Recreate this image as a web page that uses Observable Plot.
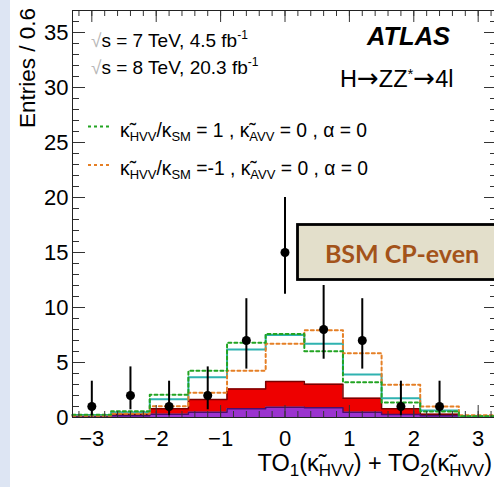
<!DOCTYPE html>
<html><head><meta charset="utf-8">
<script src="https://cdn.jsdelivr.net/npm/d3@7"></script>
<script src="https://cdn.jsdelivr.net/npm/@observablehq/plot@0.6"></script>
<style>
html,body{margin:0;padding:0;background:#fff;overflow:hidden;}
#wrap{position:relative;width:494px;height:487px;overflow:hidden;}
</style></head><body><div id="wrap"></div>
<script>
// ---- data ----
const binEdges   = [-3.3, -2.7, -2.1, -1.5, -0.9, -0.3, 0.3, 0.9, 1.5, 2.1, 2.7, 3.3];
const purpleBkg  = [0.10, 0.15, 0.30, 0.48, 0.80, 0.94, 0.88, 0.48, 0.27, 0.15, 0.05];
const redTop     = [0.20, 0.30, 0.80, 1.64, 2.58, 3.27, 3.03, 1.76, 0.80, 0.30, 0.10];
const smTotal    = [0.22, 0.48, 1.67, 3.67, 6.18, 7.50, 6.70, 3.90, 1.76, 0.64, 0.14];
const bsmPlus    = [0.24, 0.57, 2.06, 4.25, 6.80, 7.60, 6.03, 3.20, 1.36, 0.55, 0.12];
const bsmMinus   = [0.15, 0.35, 1.03, 2.25, 4.25, 6.70, 7.94, 5.85, 2.97, 1.00, 0.20];
const dataX      = [-3.0, -2.4, -1.8, -1.2, -0.6, 0.0, 0.6, 1.2, 1.8, 2.4];
const dataY      = [1, 2, 1, 2, 7, 15, 8, 7, 1, 1];
const dataLo     = [0.17, 0.7, 0.17, 0.7, 4.4, 11.2, 5.3, 4.4, 0.17, 0.17];
const dataHi     = [3.3, 4.6, 3.3, 4.6, 10.8, 20.0, 12.0, 10.8, 3.3, 3.3];
const xTickVals  = [-3, -2, -1, 0, 1, 2, 3];
const yTickVals  = [0, 5, 10, 15, 20, 25, 30, 35];
const xDomain    = [-3.3, 3.3];
const yDomain    = [0, 37];

const FONT = "'Liberation Sans', Arial, Helvetica, sans-serif";
const W = 494, H = 487, mL = 72, mR = -3, mT = 10, mB = 70;
const frameW = W - mL - mR, frameH = H - mT - mB;

const n = purpleBkg.length;
function steps(vals) {
  const pts = vals.map((v, i) => ({x: binEdges[i], y: v}));
  pts.push({x: binEdges[n], y: vals[n - 1]});
  return pts;
}
const band = binEdges.map((e, i) => ({x: e, y1: purpleBkg[Math.min(i, n - 1)], y2: redTop[Math.min(i, n - 1)]}));
const pts = dataX.map((x, i) => ({x, y: dataY[i], lo: dataLo[i], hi: dataHi[i]}));

const xMinor = d3.range(-16, 17).map(i => +(i * 0.2).toFixed(1));
const yMinor = d3.range(0, 38);
const fmt = d => d < 0 ? "\u2212" + (-d) : String(d);

const plot = Plot.plot({
  width: W, height: H,
  marginLeft: mL, marginRight: mR, marginTop: mT, marginBottom: mB,
  style: {fontFamily: FONT, fontSize: "22px", background: "transparent", color: "#000"},
  x: {domain: xDomain},
  y: {domain: yDomain},
  marks: [
    Plot.areaY(steps(purpleBkg), {x: "x", y: "y", curve: "step-after", fill: "#9b34cf"}),
    Plot.areaY(band, {x: "x", y1: "y1", y2: "y2", curve: "step-after", fill: "#ee0000"}),
    Plot.line(steps(redTop), {x: "x", y: "y", curve: "step-after", stroke: "#7a0000", strokeWidth: 1.5}),
    Plot.line(steps(purpleBkg), {x: "x", y: "y", curve: "step-after", stroke: "#4a0f6e", strokeWidth: 1.5}),
    Plot.line(steps(smTotal), {x: "x", y: "y", curve: "step-after", stroke: "#2fb2b0", strokeWidth: 2}),
    Plot.line(steps(bsmMinus), {x: "x", y: "y", curve: "step-after", stroke: "#e57f25", strokeWidth: 2, strokeDasharray: "3,3"}),
    Plot.line(steps(bsmPlus), {x: "x", y: "y", curve: "step-after", stroke: "#22a422", strokeWidth: 2, strokeDasharray: "3,3"}),
    // inward ticks: bottom / top
    Plot.tickX(xMinor, {x: d => d, insetTop: frameH - 6, stroke: "#333"}),
    Plot.tickX(xTickVals, {x: d => d, insetTop: frameH - 12, stroke: "#333"}),
    Plot.tickX(xMinor, {x: d => d, insetBottom: frameH - 6, stroke: "#333"}),
    Plot.tickX(xTickVals, {x: d => d, insetBottom: frameH - 12, stroke: "#333"}),
    // inward ticks: left / right
    Plot.tickY(yMinor, {y: d => d, insetRight: frameW - 7, stroke: "#333"}),
    Plot.tickY(yTickVals, {y: d => d, insetRight: frameW - 13, stroke: "#333"}),
    Plot.tickY(yMinor, {y: d => d, insetLeft: frameW - 7, stroke: "#333"}),
    Plot.tickY(yTickVals, {y: d => d, insetLeft: frameW - 13, stroke: "#333"}),
    // data
    Plot.ruleX(pts, {x: "x", y1: "lo", y2: "hi", stroke: "#000", strokeWidth: 2}),
    Plot.dot(pts, {x: "x", y: "y", r: 4.5, fill: "#000", stroke: "none"}),
    Plot.frame({stroke: "#222"}),
    Plot.axisX(xTickVals, {tickSize: 0, tickPadding: 13, fontSize: 22, tickFormat: fmt, label: null}),
    Plot.axisY(yTickVals, {tickSize: 0, tickPadding: 4, fontSize: 22, tickFormat: fmt, label: null})
  ]
});

document.getElementById("wrap").appendChild(plot);
const svg = d3.select(plot);
svg.insert("rect", ":first-child").attr("x", 0).attr("y", 0).attr("width", 10).attr("height", H).attr("fill", "#dde5f3");

function rich(x, y, parts, attrs = {}) {
  const t = svg.append("text").attr("x", x).attr("y", y)
    .attr("font-family", FONT).attr("fill", "#000").attr("text-anchor", "start");
  for (const [k, v] of Object.entries(attrs)) t.attr(k, v);
  let cur = 0;
  for (const p of parts) {
    const q = typeof p === "string" ? {t: p} : p;
    const s = t.append("tspan").text(q.t);
    const target = q.dy || 0;
    if (target !== cur) { s.attr("dy", target - cur); cur = target; }
    if (q.size) s.attr("font-size", q.size);
    if (q.fill) s.attr("fill", q.fill);
    if (q.family) s.attr("font-family", q.family);
  }
  return t;
}

// energy / luminosity
rich(91, 47, [{t: "\u221A", fill: "#b8b8b8"}, "s = 7 TeV, 4.5 fb", {t: "-1", size: 12, dy: -8}], {"font-size": 19});
rich(91, 74, [{t: "\u221A", fill: "#b8b8b8"}, "s = 8 TeV, 20.3 fb", {t: "-1", size: 12, dy: -8}], {"font-size": 19});

// ATLAS label
rich(367, 45, ["ATLAS"], {"font-size": 25.5, "font-weight": "bold", "font-style": "italic"});
const AR = "'DejaVu Sans', sans-serif";
rich(340, 87, ["H", {t: "\u2192", family: AR, size: 26}, "ZZ", {t: "*", size: 15, dy: -8}, {t: "\u2192", family: AR, size: 26}, {t: "4l"}], {"font-size": 23.5});

// legend
const kt = "\u03BA\u0303";
svg.append("line").attr("x1", 88).attr("x2", 110).attr("y1", 126.5).attr("y2", 126.5)
  .attr("stroke", "#22a422").attr("stroke-width", 2).attr("stroke-dasharray", "3,3");
svg.append("line").attr("x1", 88).attr("x2", 110).attr("y1", 165).attr("y2", 165)
  .attr("stroke", "#e57f25").attr("stroke-width", 2).attr("stroke-dasharray", "3,3");
rich(120, 137, [kt, {t: "HVV", size: 13, dy: 4}, "/\u03BA", {t: "SM", size: 13, dy: 4}, " = 1 , " + kt, {t: "AVV", size: 13, dy: 4}, " = 0 , \u03B1 = 0"], {"font-size": 19.3});
rich(120, 175, [kt, {t: "HVV", size: 13, dy: 4}, "/\u03BA", {t: "SM", size: 13, dy: 4}, " =-1 , " + kt, {t: "AVV", size: 13, dy: 4}, " = 0 , \u03B1 = 0"], {"font-size": 19.3});

// axis titles
rich(492, 471, ["TO", {t: "1", size: 17, dy: 5}, "(" + kt, {t: "HVV", size: 17, dy: 5}, ") + TO", {t: "2", size: 17, dy: 5}, "(" + kt, {t: "HVV", size: 17, dy: 5}, ")"], {"font-size": 23.5, "text-anchor": "end"});
rich(0, 0, ["Entries / 0.6"], {"font-size": 22.5, "text-anchor": "end", transform: "translate(35,8) rotate(-90)"});

// BSM CP-even annotation box
svg.append("rect").attr("x", 297.5).attr("y", 224.5).attr("width", 220).attr("height", 55)
  .attr("fill", "#e3dfcb").attr("stroke", "#000").attr("stroke-width", 2.8);
rich(402, 263, ["BSM CP-even"], {"font-size": 25, "font-weight": "bold", "text-anchor": "middle", fill: "#a3531a", "font-family": "Lato, 'Open Sans', sans-serif"});
</script></body></html>
